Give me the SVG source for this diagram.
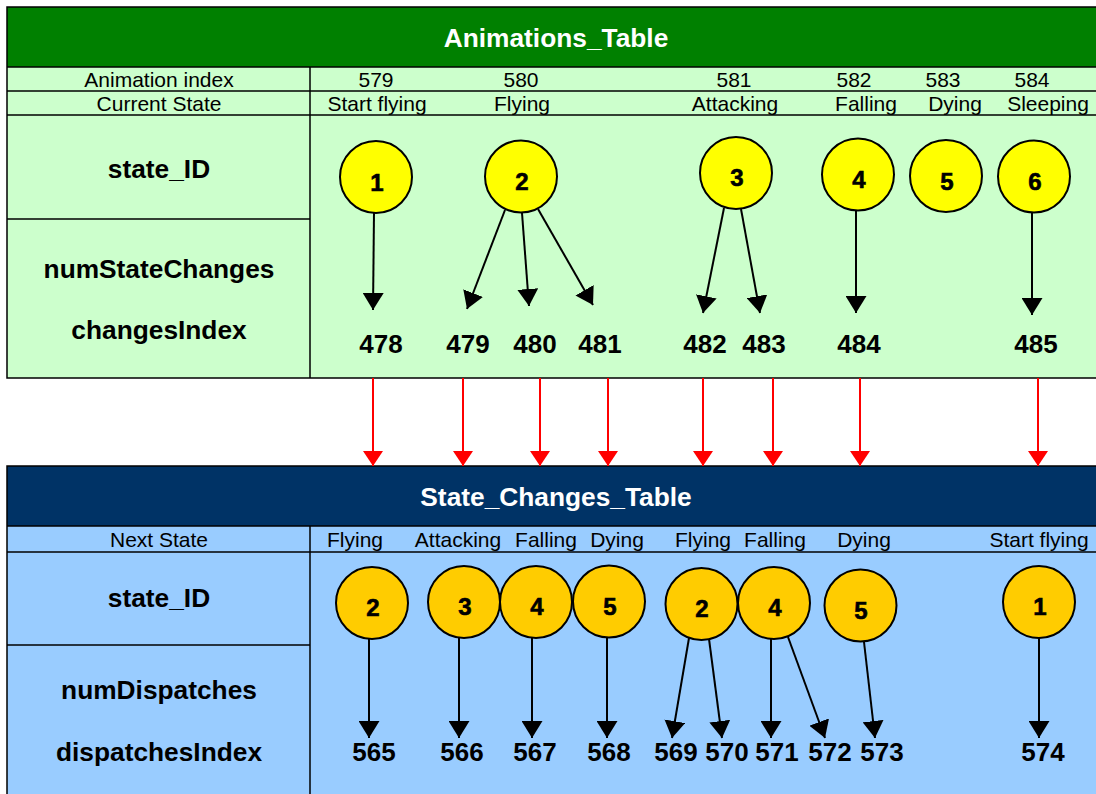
<svg xmlns="http://www.w3.org/2000/svg" width="1096" height="794" viewBox="0 0 1096 794">
  <style>
    .grid { stroke: #000; stroke-width: 1.5; fill: none; }
    .title { font-family: "Liberation Sans", Arial, sans-serif; font-weight: bold; font-size: 26.3px; fill: #fff; text-anchor: middle; }
    .cell { font-family: "Liberation Sans", Arial, sans-serif; font-size: 21px; fill: #000; text-anchor: middle; }
    .field { font-family: "Liberation Sans", Arial, sans-serif; font-weight: bold; font-size: 26.3px; fill: #000; text-anchor: middle; }
    .idx { font-family: "Liberation Sans", Arial, sans-serif; font-weight: bold; font-size: 26px; fill: #000; text-anchor: middle; }
    .num { font-family: "Liberation Sans", Arial, sans-serif; font-weight: bold; font-size: 24px; fill: #000; stroke: #000; stroke-width: 0.6; text-anchor: middle; }
    .st1 { fill: #FFFF00; stroke: #000; stroke-width: 2; }
    .st2 { fill: #FFCC00; stroke: #000; stroke-width: 2; }
    .link { stroke: #000; stroke-width: 2; fill: none; marker-end: url(#blackHead); }
    .ref { stroke: #FF0000; stroke-width: 2; fill: none; marker-end: url(#redHead); }
  </style>
  <defs>
    <marker id="blackHead" markerUnits="userSpaceOnUse" markerWidth="17" markerHeight="21" refX="17" refY="10.5" orient="auto" viewBox="0 0 17 21">
      <path d="M0,0 L17,10.5 L0,21 Z" fill="#000"/>
    </marker>
    <marker id="redHead" markerUnits="userSpaceOnUse" markerWidth="15" markerHeight="20" refX="15" refY="10" orient="auto" viewBox="0 0 15 20">
      <path d="M0,0 L15,10 L0,20 Z" fill="#FF0000"/>
    </marker>
  </defs>

  <rect width="1096" height="794" fill="#fff"/>

  <!-- Animations_Table frame -->
  <g id="animations-table">
    <rect x="7" y="7" width="1095" height="60" fill="#008000"/>
    <rect x="7" y="67" width="1095" height="311" fill="#CCFFCC"/>
    <rect class="grid" x="7" y="7" width="1095" height="371"/>
    <line class="grid" x1="7" y1="67" x2="1102" y2="67"/>
    <line class="grid" x1="7" y1="91" x2="1102" y2="91"/>
    <line class="grid" x1="7" y1="115" x2="1102" y2="115"/>
    <line class="grid" x1="310" y1="67" x2="310" y2="378"/>
    <line class="grid" x1="7" y1="219" x2="310" y2="219"/>
    <text class="title" x="556" y="47">Animations_Table</text>
    <text class="cell" x="159" y="87">Animation index</text>
    <text class="cell" x="159" y="111">Current State</text>
    <text class="cell" x="376" y="87">579</text>
    <text class="cell" x="521" y="87">580</text>
    <text class="cell" x="734" y="87">581</text>
    <text class="cell" x="854" y="87">582</text>
    <text class="cell" x="943" y="87">583</text>
    <text class="cell" x="1032" y="87">584</text>
    <text class="cell" x="377" y="111">Start flying</text>
    <text class="cell" x="522" y="111">Flying</text>
    <text class="cell" x="735" y="111">Attacking</text>
    <text class="cell" x="866" y="111">Falling</text>
    <text class="cell" x="955" y="111">Dying</text>
    <text class="cell" x="1048" y="111">Sleeping</text>
    <text class="field" x="159" y="178">state_ID</text>
    <text class="field" x="159" y="278">numStateChanges</text>
    <text class="field" x="159" y="339">changesIndex</text>
    <text class="idx" x="381" y="353">478</text>
    <text class="idx" x="468" y="353">479</text>
    <text class="idx" x="535" y="353">480</text>
    <text class="idx" x="600" y="353">481</text>
    <text class="idx" x="705" y="353">482</text>
    <text class="idx" x="764" y="353">483</text>
    <text class="idx" x="859" y="353">484</text>
    <text class="idx" x="1036" y="353">485</text>
  </g>

  <!-- State_Changes_Table frame -->
  <g id="state-changes-table">
    <rect x="7" y="466" width="1095" height="60" fill="#003366"/>
    <rect x="7" y="526" width="1095" height="280" fill="#99CCFF"/>
    <rect class="grid" x="7" y="466" width="1095" height="340"/>
    <line class="grid" x1="7" y1="526" x2="1102" y2="526"/>
    <line class="grid" x1="7" y1="552" x2="1102" y2="552"/>
    <line class="grid" x1="310" y1="526" x2="310" y2="806"/>
    <line class="grid" x1="7" y1="645" x2="310" y2="645"/>
    <text class="title" x="556" y="506">State_Changes_Table</text>
    <text class="cell" x="159" y="547">Next State</text>
    <text class="cell" x="355" y="547">Flying</text>
    <text class="cell" x="458" y="547">Attacking</text>
    <text class="cell" x="546" y="547">Falling</text>
    <text class="cell" x="617" y="547">Dying</text>
    <text class="cell" x="703" y="547">Flying</text>
    <text class="cell" x="775" y="547">Falling</text>
    <text class="cell" x="864" y="547">Dying</text>
    <text class="cell" x="1039" y="547">Start flying</text>
    <text class="field" x="159" y="607">state_ID</text>
    <text class="field" x="159" y="699">numDispatches</text>
    <text class="field" x="159" y="761">dispatchesIndex</text>
    <text class="idx" x="374" y="761">565</text>
    <text class="idx" x="462" y="761">566</text>
    <text class="idx" x="535" y="761">567</text>
    <text class="idx" x="609" y="761">568</text>
    <text class="idx" x="676" y="761">569</text>
    <text class="idx" x="727" y="761">570</text>
    <text class="idx" x="777" y="761">571</text>
    <text class="idx" x="830" y="761">572</text>
    <text class="idx" x="882" y="761">573</text>
    <text class="idx" x="1043" y="761">574</text>
  </g>

  <!-- current-state nodes -->
  <g id="anim-state-1"><circle class="st1" cx="376" cy="177" r="36"/><text class="num" x="377" y="191">1</text></g>
  <g id="anim-state-2"><circle class="st1" cx="521" cy="176.5" r="36"/><text class="num" x="522" y="190">2</text></g>
  <g id="anim-state-3"><circle class="st1" cx="736" cy="173" r="36"/><text class="num" x="737" y="186">3</text></g>
  <g id="anim-state-4"><circle class="st1" cx="858" cy="174.5" r="36"/><text class="num" x="859" y="188">4</text></g>
  <g id="anim-state-5"><circle class="st1" cx="946" cy="176" r="36"/><text class="num" x="947" y="190">5</text></g>
  <g id="anim-state-6"><circle class="st1" cx="1034" cy="176.5" r="36"/><text class="num" x="1035" y="190">6</text></g>

  <!-- next-state nodes -->
  <g id="next-state-565"><circle class="st2" cx="372" cy="603" r="36"/><text class="num" x="373" y="616">2</text></g>
  <g id="next-state-566"><circle class="st2" cx="464" cy="602" r="36"/><text class="num" x="465" y="615">3</text></g>
  <g id="next-state-567"><circle class="st2" cx="536" cy="602" r="36"/><text class="num" x="537" y="615">4</text></g>
  <g id="next-state-568"><circle class="st2" cx="609" cy="601.5" r="36"/><text class="num" x="610" y="615">5</text></g>
  <g id="next-state-569"><circle class="st2" cx="701.5" cy="604" r="36"/><text class="num" x="702" y="617">2</text></g>
  <g id="next-state-571"><circle class="st2" cx="774" cy="603" r="36"/><text class="num" x="775" y="616">4</text></g>
  <g id="next-state-573"><circle class="st2" cx="860.5" cy="605.5" r="36"/><text class="num" x="861" y="619">5</text></g>
  <g id="next-state-574"><circle class="st2" cx="1039" cy="602" r="36"/><text class="num" x="1040" y="615">1</text></g>

  <!-- connectors -->
  <g id="connectors">
    <line class="link" x1="374" y1="213" x2="373" y2="310"/>
    <line class="link" x1="505" y1="210" x2="467" y2="309"/>
    <line class="link" x1="522" y1="213" x2="529" y2="306"/>
    <line class="link" x1="538" y1="209" x2="593" y2="305"/>
    <line class="link" x1="724" y1="208" x2="703" y2="313"/>
    <line class="link" x1="741" y1="209" x2="760" y2="313"/>
    <line class="link" x1="856" y1="210" x2="856" y2="313"/>
    <line class="link" x1="1032" y1="213" x2="1032" y2="315" stroke-width="2.5"/>

    <line class="ref" x1="373" y1="378" x2="373" y2="466"/>
    <line class="ref" x1="463" y1="378" x2="463" y2="466"/>
    <line class="ref" x1="540" y1="378" x2="540" y2="466"/>
    <line class="ref" x1="608" y1="378" x2="608" y2="466"/>
    <line class="ref" x1="703" y1="378" x2="703" y2="466"/>
    <line class="ref" x1="773" y1="378" x2="773" y2="466"/>
    <line class="ref" x1="860" y1="378" x2="860" y2="466"/>
    <line class="ref" x1="1038" y1="378" x2="1038" y2="466"/>

    <line class="link" x1="369" y1="639" x2="369" y2="738"/>
    <line class="link" x1="459" y1="638" x2="459" y2="738"/>
    <line class="link" x1="532" y1="638" x2="532" y2="738"/>
    <line class="link" x1="607" y1="638" x2="607" y2="738"/>
    <line class="link" x1="689" y1="638" x2="672" y2="738"/>
    <line class="link" x1="709" y1="639" x2="722" y2="738"/>
    <line class="link" x1="771" y1="639" x2="771" y2="738"/>
    <line class="link" x1="788" y1="637" x2="825" y2="738"/>
    <line class="link" x1="864" y1="642" x2="875" y2="738"/>
    <line class="link" x1="1039" y1="638" x2="1039" y2="738"/>
  </g>
</svg>
